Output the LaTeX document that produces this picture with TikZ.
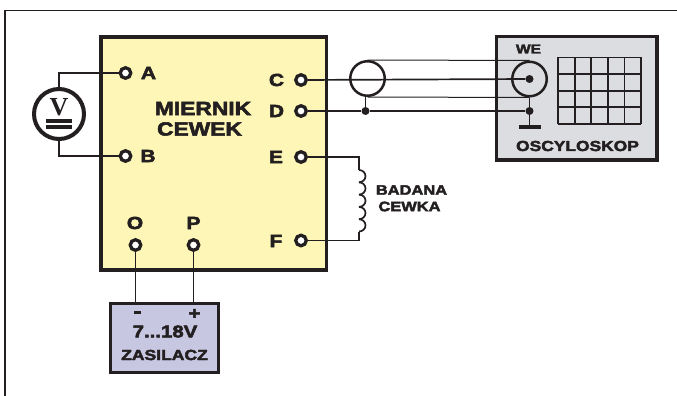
\documentclass[tikz,border=0pt]{standalone}
\usepackage{fontspec}
\newfontfamily\lblfont[FakeStretch=1.2,FakeBold=3]{Liberation Sans Bold}
\newfontfamily\vfont{Liberation Serif Bold}
\definecolor{ink}{HTML}{231F20}
\definecolor{boxyellow}{HTML}{FDF6B6}
\definecolor{boxgray}{HTML}{DCDDE0}
\definecolor{boxlilac}{HTML}{C8C7E2}
\tikzset{
  lbl/.style={inner sep=0pt,text=ink,font=\lblfont\fontsize{#1}{#1}\selectfont},
  lbl/.default=17.5,
  term/.style={draw=ink,circle,line width=3.3pt,fill=white,inner sep=0pt,minimum size=10.5pt},
  jdot/.style={circle,fill=ink,inner sep=0pt,minimum size=#1},
  jdot/.default=8pt,
  bar/.style={rectangle,fill=ink,inner sep=0pt},
  ring/.style={draw=ink,circle,line width=2.5pt,fill=none,inner sep=0pt,minimum size=34.5pt},
  wire/.style={draw=ink,line width=1.7pt},
  thin wire/.style={draw=ink,line width=1pt}
}
\begin{document}
\begin{tikzpicture}[x=1pt,y=-1pt]
\useasboundingbox (0,0) rectangle (677,396);
% frame
\draw[draw=ink,line width=1.1pt] (677,10.5) -- (5,10.5) -- (5,396);

% boxes
\node[draw=ink,line width=3.6pt,fill=boxyellow,minimum width=225.5pt,minimum height=233.5pt,inner sep=0pt] (miernik) at (213.75,153.5) {};
\node[draw=ink,line width=3.6pt,fill=boxgray,minimum width=160.5pt,minimum height=123.5pt,inner sep=0pt] (scope) at (576.75,98.25) {};
\node[draw=ink,line width=3.6pt,fill=boxlilac,minimum width=108pt,minimum height=69pt,inner sep=0pt] (zasilacz) at (164.5,338) {};

% screen
\foreach \i in {0,...,5}
  \draw[draw=ink,line width=1.8pt] (558+\i*16.6,57.5) -- (558+\i*16.6,124);
\foreach \i in {0,...,4}
  \draw[draw=ink,line width=1.8pt] (558,57.5+\i*16.6) -- (641,57.5+\i*16.6);

% terminals
\node[term] (A) at (125.5,73) {};
\node[term] (B) at (125.5,156) {};
\node[term] (C) at (301,80) {};
\node[term] (D) at (301,111) {};
\node[term] (E) at (301,157) {};
\node[term] (F) at (301,240.5) {};
\node[term] (O) at (135.5,245) {};
\node[term] (P) at (193.5,245) {};

% voltmeter
\node[draw=ink,circle,line width=4pt,fill=white,inner sep=0pt,minimum size=50pt] (meter) at (59,114) {};
\node[inner sep=0pt,text=ink,font=\vfont\fontsize{26}{26}\selectfont] (vsign) at (59,107) {V};
\node[bar,minimum width=26pt,minimum height=4pt] (vbar1) at (59,121) {};
\node[bar,minimum width=26pt,minimum height=4pt] (vbar2) at (59,127) {};

% cable
\node[ring] (coax) at (367.5,78.5) {};
\node[ring] (we) at (529.5,79) {};
\node[jdot=8pt] (wedot) at (529.5,79) {};
\node[jdot] (j1) at (365.5,111) {};
\node[jdot] (j2) at (529.5,111) {};
\node[bar,minimum width=22pt,minimum height=4.5pt] (gnd) at (529.5,127) {};

% wires
\path[wire] (A) -| (meter);
\path[wire] (B) -| (meter);
\path[wire] (C) -- (wedot);
\path[draw=ink,line width=2pt] (D) -- (j1) -- (j2);
\path[wire] (j1) -- (j1 |- coax.south);
\path[wire] (we) -- (j2) -- (gnd);
\path[thin wire] (coax.north) -- (we.north);
\path[thin wire] (coax.south) -- (we.south);
\path[wire] (O) -- (O |- zasilacz.north);
\path[wire] (P) -- (P |- zasilacz.north);

% coil
\coordinate (ctop) at (359,170);
\coordinate (cbot) at (359,231.5);
\path[wire] (E) -| (ctop);
\path[wire] (F) -| (cbot);
\foreach \i in {0,...,4}
  \draw[wire] (359,170+\i*12.3) arc (90:-90:6.5pt and 6.15pt);

% labels
\node[lbl] (lA) at (148.5,73) {A};
\node[lbl] (lB) at (148,156) {B};
\node[lbl] (lC) at (276.5,80) {C};
\node[lbl] (lD) at (276.5,111) {D};
\node[lbl] (lE) at (276,157) {E};
\node[lbl] (lF) at (276,241) {F};
\node[lbl] (lO) at (135,223) {O};
\node[lbl] (lP) at (193.5,223) {P};
\node[lbl=19] (mier) at (203,108.5) {MIERNIK};
\node[lbl=19] (cew) at (199.5,129) {CEWEK};
\node[lbl=13.7] (bad) at (411.5,190) {BADANA};
\node[lbl=13.7] (cwk) at (409.5,206.5) {CEWKA};
\node[lbl=13] (lwe) at (528.5,49) {WE};
\node[lbl=14.5] (osc) at (577.5,146) {OSCYLOSKOP};
\node[bar,minimum width=7pt,minimum height=3.5pt] (minus) at (137,312.5) {};
\node[lbl=17] (plus) at (194.5,314) {+};
\node[lbl=17] (volt) at (165,331.5) {7...18V};
\node[lbl=14.6] (zas) at (164.5,355) {ZASILACZ};
\end{tikzpicture}
\end{document}
